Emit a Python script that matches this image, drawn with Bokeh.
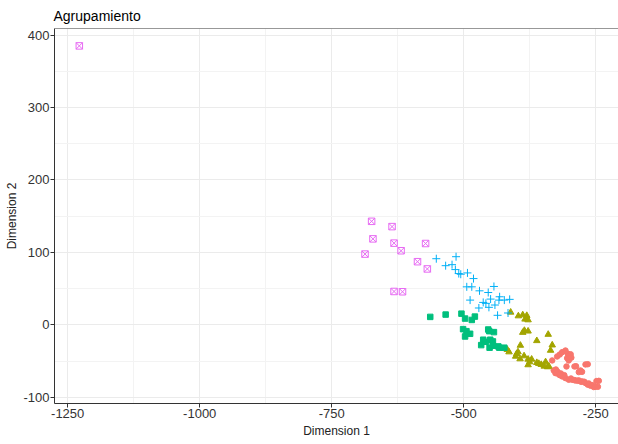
from bokeh.plotting import figure
from bokeh.models import Range1d, FixedTicker, Span, CustomJSTickFormatter
from bokeh.embed import file_html
from bokeh.resources import INLINE

# Cluster 1 (red circles)
c1_x = [-332.6, -323.2, -318.2, -313.7, -307.4, -303.0, -301.2, -304.2, -301.2, -305.5, -290.4,
        -279.0, -282.2, -269.5, -248.7, -329.6, -326.4, -320.0, -313.7, -307.4, -301.2, -294.7,
        -288.4, -282.2, -275.8, -269.5, -265.0, -260.0, -253.8, -297.6, -296.3, -287.4, -276.0,
        -265.2, -244.3, -322.3, -316.0, -309.6, -297.0, -290.6, -284.3, -277.9, -271.6, -263.3,
        -257.0, -250.6, -246.0, -325.5, -317.9]
c1_y = [-49.1, -43.6, -40.9, -37.7, -35.4, -39.9, -42.2, -45.9, -49.1, -57.4, -57.4,
        -62.9, -65.2, -54.6, -77.6, -62.9, -66.6, -68.4, -71.1, -73.5, -75.7, -75.7,
        -76.6, -76.6, -78.0, -80.3, -82.5, -83.9, -85.8, -40.6, -45.2, -57.1, -64.8,
        -54.3, -77.2, -64.8, -67.1, -69.4, -74.0, -76.3, -77.2, -78.5, -78.5, -80.8,
        -83.1, -85.4, -85.4, -61.6, -69.4]

# Cluster 2 (olive triangles)
c2_x = [-411.2, -396.6, -388.3, -380.7, -384.0, -378.2, -388.3, -385.2, -378.2, -340.1, -361.7,
        -332.5, -392.8, -335.6, -417.5, -414.3, -399.8, -397.3, -401.7, -385.8, -393.4, -378.2,
        -371.5, -375.3, -361.7, -357.9, -378.2, -353.3, -345.1, -347.7, -341.3, -338.9]
c2_y = [17.4, 12.3, 13.7, 12.8, 7.8, 6.8, -10.5, -7.8, -8.7, -13.2, -21.9,
        -27.9, -28.3, -35.2, -34.2, -37.4, -39.7, -37.4, -43.4, -42.9, -47.0, -47.5,
        -47.5, -51.1, -52.1, -53.4, -55.2, -54.8, -51.1, -57.1, -58.0, -57.1]

# Cluster 3 (green squares)
c3_x = [-563.5, -534.3, -504.4, -497.5, -479.0, -484.8, -501.3, -494.9, -488.0, -497.5, -453.7,
        -451.8, -442.9, -463.2, -458.1, -449.9, -444.8, -467.0, -451.1, -444.8, -434.6, -432.7,
        -423.2]
c3_y = [11.0, 14.2, 15.5, 8.7, 11.4, 6.8, -5.9, -8.7, -12.3, -16.0, -6.4,
        -8.7, -10.0, -20.5, -23.3, -20.5, -22.8, -27.9, -31.5, -28.8, -29.7, -31.5,
        -31.5]

# Cluster 4 (cyan crosses)
c4_x = [-552.0, -514.6, -534.3, -522.2, -515.9, -509.5, -505.7, -493.0, -481.6, -494.3, -484.8,
        -470.2, -453.7, -442.9, -488.0, -463.2, -458.1, -449.2, -432.1, -433.4, -423.2, -413.1,
        -441.0, -452.4, -471.4, -436.0, -416.2]
c4_y = [91.3, 94.1, 81.7, 83.1, 76.3, 70.8, 69.9, 71.7, 63.9, 52.5, 52.5,
        47.0, 44.7, 53.0, 34.2, 31.0, 29.7, 35.6, 38.8, 34.2, 34.2, 35.2,
        27.4, 24.2, 23.3, 13.2, 16.4]

# Cluster 5 (magenta squares with cross)
c5_x = [-1228.0, -674.5, -635.8, -672.0, -632.0, -572.3, -618.7, -687.0, -587.6, -569.0, -632.0, -616.0]
c5_y = [385.0, 142.9, 135.6, 118.7, 112.8, 112.3, 102.3, 97.7, 87.2, 77.2, 46.1, 45.7]

x_ticks = [-1250, -1000, -750, -500, -250]
x_minor = [-1125, -875, -625, -375]
y_ticks = [-100, 0, 100, 200, 300, 400]
y_minor = [-50, 50, 150, 250, 350]

FONT = "Liberation Sans"

p = figure(width=618, height=444, output_backend="svg", toolbar_location=None,
           x_range=Range1d(-1275, -207), y_range=Range1d(-108.5, 409),
           min_border_left=54, min_border_right=0, min_border_top=27, min_border_bottom=41,
           title="Agrupamiento")

p.title.text_font = FONT
p.title.text_font_size = "14px"
p.title.text_font_style = "normal"
p.title.text_color = "#000000"
p.title.align = "left"
p.title.offset = -1

p.outline_line_color = None
p.background_fill_color = "white"
p.border_fill_color = "white"

p.xaxis.ticker = FixedTicker(ticks=x_ticks, minor_ticks=x_minor)
p.yaxis.ticker = FixedTicker(ticks=y_ticks, minor_ticks=y_minor)
p.xaxis.formatter = CustomJSTickFormatter(code="return tick.toString();")
p.yaxis.formatter = CustomJSTickFormatter(code="return tick.toString();")

for ax in (p.xaxis[0], p.yaxis[0]):
    ax.axis_line_color = "#333333"
    ax.axis_line_width = 1
    ax.major_tick_line_color = "#333333"
    ax.major_tick_out = 4
    ax.major_tick_in = 0
    ax.minor_tick_line_color = None
    ax.major_label_text_font = FONT
    ax.major_label_text_font_size = "13px"
    ax.major_label_text_color = "#333333"
    ax.axis_label_text_font = FONT
    ax.axis_label_text_font_size = "12px"
    ax.axis_label_text_font_style = "normal"
    ax.axis_label_text_color = "#222222"
    ax.major_label_standoff = 1
    ax.axis_label_standoff = 3

p.yaxis.axis_label_standoff = 1
p.xaxis.axis_label = "Dimension 1"
p.yaxis.axis_label = "Dimension 2"
p.yaxis.major_label_orientation = "horizontal"

p.xgrid.grid_line_color = "#EBEBEB"
p.ygrid.grid_line_color = "#EBEBEB"
p.xgrid.minor_grid_line_color = "#F3F3F3"
p.ygrid.minor_grid_line_color = "#F3F3F3"

top = Span(location=409, dimension="width", line_color="#333333", line_width=1)
p.add_layout(top)

p.scatter(c1_x, c1_y, marker="circle", size=5.5, color="#F8766D")
p.scatter(c2_x, c2_y, marker="triangle", size=6.5, color="#A3A500")
p.scatter(c3_x, c3_y, marker="square", size=5.5, color="#00BF7D")
p.scatter(c4_x, c4_y, marker="cross", size=8, line_color="#00B0F6", line_width=1)
p.scatter(c5_x, c5_y, marker="square_x", size=6.5, line_color="#E76BF3", fill_color=None, line_width=1)

open("out.html", "w").write(file_html(p, INLINE))
